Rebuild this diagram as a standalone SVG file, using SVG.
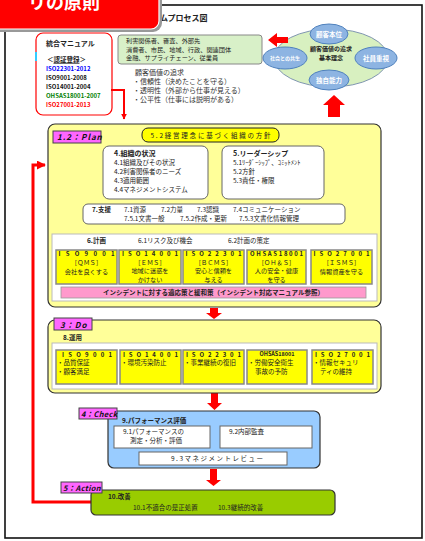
<svg xmlns="http://www.w3.org/2000/svg" width="425" height="541" viewBox="0 0 425 541">
<style>
text{font-family:"Noto Sans CJK JP","Liberation Sans",sans-serif;fill:#222;}
.s6{font-size:6.5px;}
.s7{font-size:7px;}
.b{font-weight:bold;}
.c{text-anchor:middle;}
.cu{font-size:7px;fill:#333;}
.phase{fill:#ff66ff;stroke:#444;stroke-width:1;}
.ptxt{font-size:8px;font-weight:bold;font-style:italic;letter-spacing:1px;fill:#111;}
.wbox{fill:#fff;stroke:#666;stroke-width:1;}
.iso{fill:#ffff00;stroke:#888;stroke-width:1.5;}
.isot{font-size:6px;font-weight:bold;}
.il{font-size:6.2px;text-anchor:middle;}
.ell{fill:#8db4e2;stroke:#4f81bd;stroke-width:1;}
.et{font-size:6.5px;fill:#fff;font-weight:bold;text-anchor:middle;}
.arw{fill:#ff0000;}
.red{fill:none;stroke:#ff0000;}
</style>
<defs>
<marker id="ah" viewBox="0 0 10 10" refX="9" refY="5" markerWidth="3" markerHeight="3" orient="auto"><path d="M0,0 L10,5 L0,10 z" fill="#ff0000"/></marker>
</defs>
<rect width="425" height="541" fill="#fff"/>
<rect x="5" y="5" width="417" height="533" fill="none" stroke="#111" stroke-width="1.6"/>

<g id="title">
<text x="160" y="21" class="b" style="font-size:8px">ムプロセス図</text>
</g>

<g id="banner">
<rect x="-20" y="-20" width="182" height="52" rx="9" fill="#999"/>
<rect x="-17" y="-17" width="176" height="46" rx="8" fill="#ff0000" stroke="#fff" stroke-width="1.2"/>
<text x="28" y="9" style="font-size:18px;font-weight:bold;fill:#fff">リの原則</text>
</g>

<g id="manual">
<rect x="36" y="33" width="76" height="82" rx="7" fill="#fff" stroke="#ff0000" stroke-width="1.2"/>
<rect x="35" y="52" width="2" height="9" fill="#33ccff"/>
<text x="46" y="46" class="s7 b">統合マニュアル</text>
<text x="47" y="62" class="s6 b">＜<tspan text-decoration="underline">認証登録</tspan>＞</text>
<text x="46" y="71" style="font-size:6px;font-weight:bold;fill:#0000ff">ISO22301-2012</text>
<text x="46" y="80" style="font-size:6px;font-weight:bold;fill:#111">ISO9001-2008</text>
<text x="46" y="89" style="font-size:6px;font-weight:bold;fill:#111">ISO14001-2004</text>
<text x="46" y="98" style="font-size:6px;font-weight:bold;fill:#008000">OHSAS18001-2007</text>
<text x="46" y="107" style="font-size:6px;font-weight:bold;fill:#ff0000">ISO27001-2013</text>
</g>

<g id="stakeholders">
<rect x="118" y="35" width="144" height="29" rx="3" fill="#d8f0c8" stroke="#888" stroke-width="1"/>
<text x="126" y="43" style="font-size:6.2px">利害関係者、審査、外部先</text>
<text x="126" y="51.5" style="font-size:6.2px">消費者、市民、地域、行政、関連団体</text>
<text x="126" y="60" style="font-size:6.2px">金融、サプライチェーン、従業員</text>
</g>

<g id="customer">
<text x="135" y="75" class="cu">顧客価値の追求</text>
<text x="133" y="84" class="cu">・信頼性（決めたことを守る）</text>
<text x="133" y="93" class="cu">・透明性（外部から仕事が見える）</text>
<text x="133" y="102" class="cu">・公平性（仕事には説明がある）</text>
</g>

<g id="philosophy">
<ellipse cx="331" cy="58" rx="57" ry="29" fill="#d8f0c0" stroke="#8096b0" stroke-width="1"/>
<text x="331" y="51" class="c b" style="font-size:6px">顧客価値の追求</text>
<text x="331" y="60" class="c b" style="font-size:6px">基本理念</text>
<ellipse class="ell" cx="329" cy="34" rx="19" ry="10"/>
<text x="329" y="36.5" class="et">顧客本位</text>
<ellipse class="ell" cx="285" cy="58" rx="22" ry="11"/>
<text x="285" y="60" class="et" style="font-size:5px">社会との共生</text>
<ellipse class="ell" cx="376" cy="58" rx="21" ry="11"/>
<text x="376" y="60.5" class="et">社員重視</text>
<ellipse class="ell" cx="329" cy="80" rx="20" ry="10"/>
<text x="329" y="82.5" class="et">独自能力</text>
</g>

<g id="connectors">
<polygon class="arw" points="268,40 277,33 277,37 288,37 288,43 277,43 277,47"/>
<polygon class="arw" points="334,95 345,105 340,105 340,117 328,117 328,105 323,105"/>
<polyline class="red" stroke-width="2" points="111,90 124,90 124,119" marker-end="url(#ah)"/>
<polyline class="red" stroke-width="3" points="91,502 33,502 33,165 45,165" marker-end="url(#ah)"/>
<polygon class="arw" points="210,308 218,308 218,313 222,313 214,319 206,313 210,313"/>
<polygon class="arw" points="211,393 218,393 218,403 222,403 214.5,410 207,403 211,403"/>
<polygon class="arw" points="210,469 217,469 217,480 221,480 213.5,486 206,480 210,480"/>
</g>

<g id="plan">
<rect x="48" y="124" width="333" height="183" rx="7" fill="#ffff99" stroke="#333" stroke-width="1.2"/>
<rect class="phase" x="53" y="131" width="48" height="12"/>
<text x="57" y="140" class="ptxt">1.2：Plan</text>
<rect x="142" y="128" width="137" height="14" rx="6" fill="#ffff00" stroke="#222" stroke-width="1"/>
<text x="210.5" y="138" class="c s6" textLength="120" lengthAdjust="spacing">5.2経営理念に基づく組織の方針</text>
</g>

<g id="context">
<rect class="wbox" x="103" y="146" width="105" height="53" rx="6"/>
<text x="114" y="156" class="s7 b">4.組織の状況</text>
<text x="114" y="165" class="s6">4.1組織及びその状況</text>
<text x="114" y="174" class="s6">4.2利害関係者のニーズ</text>
<text x="114" y="183" class="s6">4.3適用範囲</text>
<text x="114" y="192" class="s6">4.4マネジメントシステム</text>
</g>

<g id="leadership">
<rect class="wbox" x="222" y="146" width="102" height="53" rx="6"/>
<text x="233" y="156" class="s7 b">5.リーダーシップ</text>
<text x="233" y="165" class="s6">5.1ﾘｰﾀﾞｰｼｯﾌﾟ、ｺﾐｯﾄﾒﾝﾄ</text>
<text x="233" y="174" class="s6">5.2方針</text>
<text x="233" y="183" class="s6">5.3責任・権限</text>
</g>

<g id="support">
<rect class="wbox" x="83" y="204" width="262" height="20" rx="5"/>
<text x="92" y="212" class="s6 b">7.支援</text>
<text x="124" y="212" class="s6">7.1資源</text>
<text x="161" y="212" class="s6">7.2力量</text>
<text x="197" y="212" class="s6">7.3認識</text>
<text x="233" y="212" class="s6">7.4コミュニケーション</text>
<text x="124" y="221" class="s6">7.5.1文書一般</text>
<text x="180" y="221" class="s6">7.5.2作成・更新</text>
<text x="239" y="221" class="s6">7.5.3文書化情報管理</text>
</g>

<g id="planning">
<rect x="52" y="234" width="325" height="67" fill="#fff" stroke="#bbb" stroke-width="1"/>
<text x="87" y="243" class="s6 b">6.計画</text>
<text x="138" y="243" class="s6">6.1リスク及び機会</text>
<text x="228" y="243" class="s6">6.2計画の策定</text>
</g>

<g id="plan-iso9001">
<rect class="iso" x="56" y="250" width="61" height="34"/>
<text x="86.5" y="256" class="c isot" textLength="56" lengthAdjust="spacing">ISO9001</text>
<text x="86.5" y="265" class="il">［ＱＭＳ］</text>
<text x="86.5" y="274" class="il">会社を良くする</text>
</g>
<g id="plan-iso14001">
<rect class="iso" x="119" y="250" width="62" height="34"/>
<text x="150" y="256" class="c isot" textLength="56" lengthAdjust="spacing">ISO14001</text>
<text x="150" y="264.5" class="il">［ＥＭＳ］</text>
<text x="150" y="273" class="il">地域に迷惑を</text>
<text x="150" y="281.5" class="il">かけない</text>
</g>
<g id="plan-iso22301">
<rect class="iso" x="183" y="250" width="61" height="34"/>
<text x="213.5" y="256" class="c isot" textLength="56" lengthAdjust="spacing">ISO22301</text>
<text x="213.5" y="264.5" class="il">［ＢＣＭＳ］</text>
<text x="213.5" y="273" class="il">安心と信頼を</text>
<text x="213.5" y="281.5" class="il">与える</text>
</g>
<g id="plan-ohsas18001">
<rect class="iso" x="247" y="250" width="59" height="34"/>
<text x="276.5" y="256" class="c isot" textLength="53" lengthAdjust="spacing">OHSAS18001</text>
<text x="276.5" y="264.5" class="il">［ＯＨ＆Ｓ］</text>
<text x="276.5" y="273" class="il">人の安全・健康</text>
<text x="276.5" y="281.5" class="il">を守る</text>
</g>
<g id="plan-iso27001">
<rect class="iso" x="311" y="250" width="61" height="34"/>
<text x="341.5" y="256" class="c isot" textLength="56" lengthAdjust="spacing">ISO27001</text>
<text x="341.5" y="265" class="il">［ＩＳＭＳ］</text>
<text x="341.5" y="274" class="il">情報資産を守る</text>
</g>

<g id="incident">
<rect x="61" y="287" width="305" height="11" fill="#ff99cc" stroke="#999" stroke-width="0.8"/>
<text x="213.5" y="295" class="c s6 b">インシデントに対する適応策と緩和策（インシデント対応マニュアル参照）</text>
</g>

<g id="do">
<rect x="48" y="320" width="333" height="73" rx="7" fill="#ffff99" stroke="#333" stroke-width="1.2"/>
<rect class="phase" x="54" y="318" width="38" height="12"/>
<text x="60" y="327.5" class="ptxt">3：Do</text>
<text x="63" y="340" class="s6 b">8.運用</text>
<rect x="52" y="343" width="325" height="46" fill="#fff" stroke="#bbb" stroke-width="1"/>
</g>

<g id="do-iso9001">
<rect class="iso" x="56" y="350" width="61" height="34"/>
<text x="62" y="356.5" class="isot" textLength="50" lengthAdjust="spacing">ISO9001</text>
<text x="57" y="365" class="s6">・品質保証</text>
<text x="57" y="374" class="s6">・顧客満足</text>
</g>
<g id="do-iso14001">
<rect class="iso" x="120" y="350" width="61" height="34"/>
<text x="123" y="356.5" class="isot" textLength="55" lengthAdjust="spacing">ISO14001</text>
<text x="121" y="365" class="s6">・環境汚染防止</text>
</g>
<g id="do-iso22301">
<rect class="iso" x="183" y="350" width="61" height="34"/>
<text x="186" y="356.5" class="isot" textLength="55" lengthAdjust="spacing">ISO22301</text>
<text x="184" y="365" class="s6">・事業継続の復旧</text>
</g>
<g id="do-ohsas18001">
<rect class="iso" x="247" y="350" width="60" height="34"/>
<text x="277" y="356" class="c b" style="font-size:5.5px">OHSAS18001</text>
<text x="248" y="365" class="s6">・労働安全衛生</text>
<text x="255" y="374" class="s6">事故の予防</text>
</g>
<g id="do-iso27001">
<rect class="iso" x="312" y="350" width="61" height="34"/>
<text x="315" y="356.5" class="isot" textLength="55" lengthAdjust="spacing">ISO27001</text>
<text x="313" y="365" class="s6">・情報セキュリ</text>
<text x="320" y="374" class="s6">ティの維持</text>
</g>

<g id="check">
<rect x="108" y="411" width="212" height="57" rx="6" fill="#99ccff" stroke="#333" stroke-width="1.2"/>
<rect class="phase" x="79" y="408" width="38" height="11"/>
<text x="81" y="416.5" class="ptxt" style="font-size:7.5px;letter-spacing:0.3px">4：Check</text>
<text x="122" y="423" class="s6 b">9.パフォーマンス評価</text>
<rect class="wbox" x="114" y="426" width="96" height="22"/>
<text x="123" y="434" class="s6">9.1パフォーマンスの</text>
<text x="130" y="443" class="s6">測定・分析・評価</text>
<rect class="wbox" x="220" y="426" width="92" height="22"/>
<text x="229" y="434" class="s6">9.2内部監査</text>
<rect class="wbox" x="139" y="452" width="148" height="13"/>
<text x="217" y="461" class="c s6" textLength="92" lengthAdjust="spacing">9.3マネジメントレビュー</text>
</g>

<g id="act">
<rect x="91" y="490" width="244" height="25" rx="5" fill="#99cc00" stroke="#333" stroke-width="1.2"/>
<rect class="phase" x="61" y="482" width="41" height="11"/>
<text x="63" y="490.5" class="ptxt" style="font-size:7.5px;letter-spacing:0.3px">5：Action</text>
<text x="108" y="499" class="s6 b">10.改善</text>
<text x="133" y="510" class="s6">10.1不適合の是正処置</text>
<text x="218" y="510" class="s6">10.3継続的改善</text>
</g>
</svg>
